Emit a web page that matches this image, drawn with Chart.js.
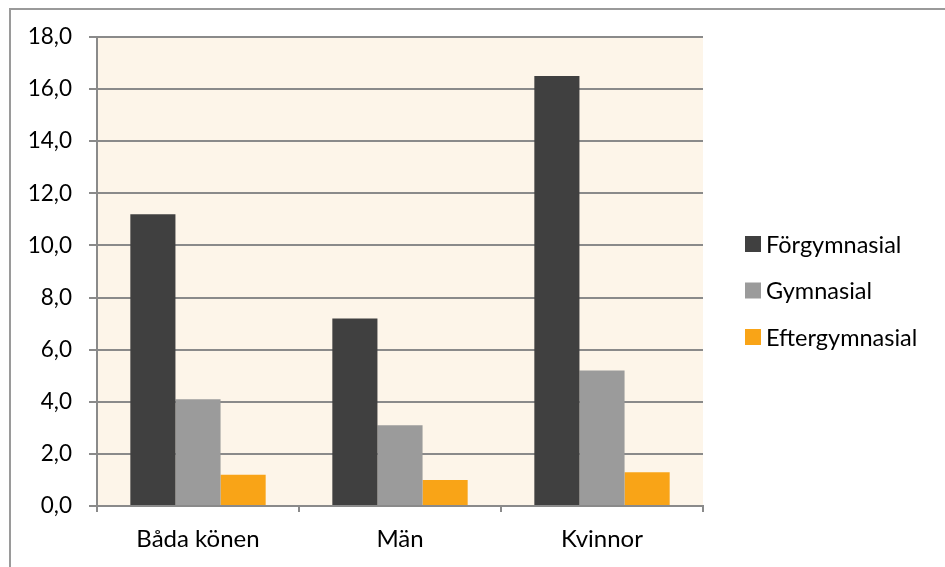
<!DOCTYPE html>
<html>
<head>
<meta charset="utf-8">
<script src="https://cdn.jsdelivr.net/npm/chart.js@4.4.1/dist/chart.umd.min.js"></script>
<style>
  body { margin: 0; background: #fff; }
  #wrap { position: relative; width: 945px; height: 567px; }
</style>
</head>
<body>
<div id="wrap"><canvas id="myChart" width="945" height="567"></canvas></div>
<script>
// data
var categories = ['Båda könen', 'Män', 'Kvinnor'];
var seriesNames = ['Förgymnasial', 'Gymnasial', 'Eftergymnasial'];
var forgymnasial = [11.2, 7.2, 16.5];
var gymnasial = [4.1, 3.1, 5.2];
var eftergymnasial = [1.2, 1.0, 1.3];
var yTicks = [0, 2, 4, 6, 8, 10, 12, 14, 16, 18];

var colors = ['#404040', '#9b9b9b', '#f9a417'];
var FONT = 'Lato, "Liberation Sans", sans-serif';

// cream plot background + outer frame
var backdrop = {
    id: 'backdrop',
    beforeDraw: function (chart) {
        var c = chart.ctx, a = chart.chartArea;
        c.save();
        c.fillStyle = '#fdf5e9';
        c.fillRect(a.left, a.top, a.right - a.left, a.bottom - a.top);
        c.strokeStyle = '#9a9a9a';
        c.lineWidth = 2;
        c.strokeRect(10, 9, 2000, 2000);
        c.restore();
    }
};

// legend on the right, excel style
var sideLegend = {
    id: 'sideLegend',
    afterDraw: function (chart) {
        var c = chart.ctx;
        var x = 745, y0 = 244, step = 46.5;
        c.save();
        c.font = '23.5px ' + FONT;
        c.textBaseline = 'middle';
        c.textAlign = 'left';
        chart.data.datasets.forEach(function (ds, i) {
            var y = y0 + i * step;
            c.fillStyle = ds.backgroundColor;
            c.fillRect(x, y - 8, 16, 16);
            c.fillStyle = '#000';
            c.fillText(ds.label, x + 21, y + 1);
        });
        c.restore();
    }
};

var ctx = document.getElementById('myChart').getContext('2d');

new Chart(ctx, {
    type: 'bar',
    data: {
        labels: categories,
        datasets: [
            { label: seriesNames[0], data: forgymnasial, backgroundColor: colors[0] },
            { label: seriesNames[1], data: gymnasial, backgroundColor: colors[1] },
            { label: seriesNames[2], data: eftergymnasial, backgroundColor: colors[2] }
        ]
    },
    options: {
        responsive: false,
        animation: false,
        layout: { padding: { left: 0, top: 37, right: 242, bottom: 0 } },
        datasets: {
            bar: { categoryPercentage: 0.67, barPercentage: 1.0, borderWidth: 0 }
        },
        plugins: {
            legend: { display: false },
            tooltip: { enabled: false }
        },
        scales: {
            x: {
                afterFit: function (scale) { scale.height = 61; },
                grid: {
                    offset: true,
                    drawOnChartArea: false,
                    drawTicks: true,
                    tickLength: 6,
                    color: '#8a8a8a',
                    lineWidth: 2
                },
                border: { color: '#8a8a8a', width: 2 },
                ticks: {
                    color: '#000',
                    padding: 13,
                    font: { family: FONT, size: 24 }
                }
            },
            y: {
                min: 0,
                max: 18,
                afterFit: function (scale) { scale.width = 97; },
                afterBuildTicks: function (scale) {
                    scale.ticks = yTicks.map(function (v) { return { value: v }; });
                },
                grid: {
                    color: '#8a8a8a',
                    lineWidth: 2,
                    drawTicks: true,
                    tickLength: 8
                },
                border: { color: '#8a8a8a', width: 2 },
                ticks: {
                    color: '#000',
                    padding: 17,
                    font: { family: FONT, size: 22.5 },
                    callback: function (value) {
                        return value.toFixed(1).replace('.', ',');
                    }
                }
            }
        }
    },
    plugins: [backdrop, sideLegend]
});
</script>
</body>
</html>
